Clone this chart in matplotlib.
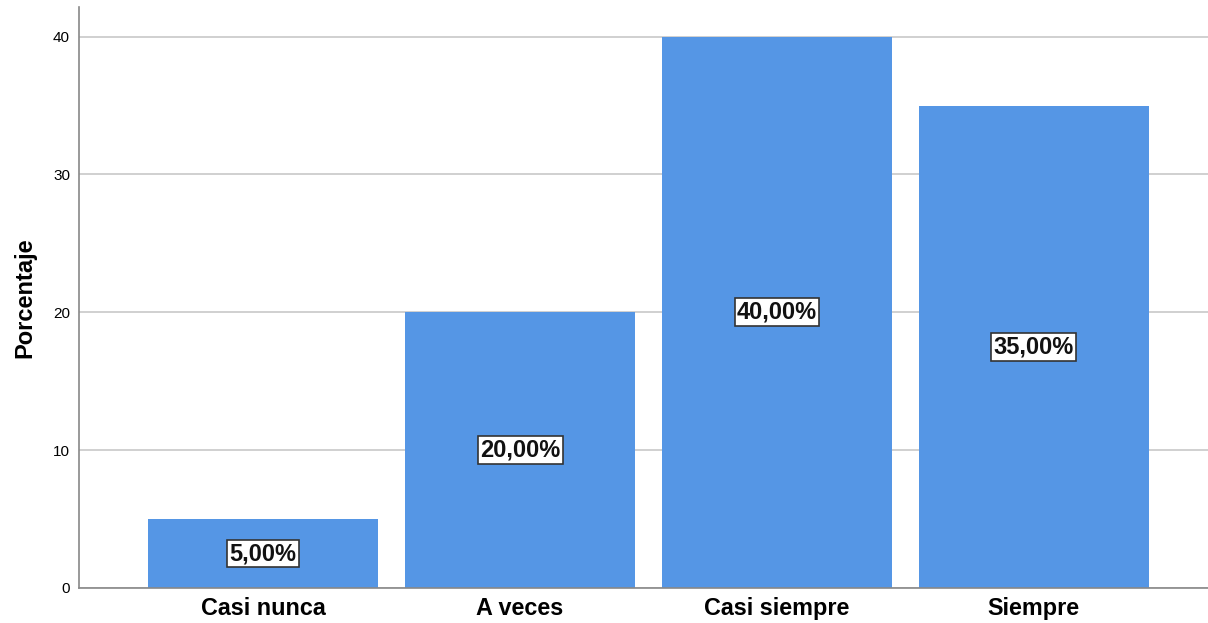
import matplotlib
matplotlib.use("Agg")
import matplotlib.pyplot as plt

categories = ["Casi nunca", "A veces", "Casi siempre", "Siempre"]
porcentajes = [5.0, 20.0, 40.0, 35.0]
etiquetas = ["5,00%", "20,00%", "40,00%", "35,00%"]
yticks = [0, 10, 20, 30, 40]

plt.rcParams["font.family"] = ["Liberation Sans", "DejaVu Sans"]

fig = plt.figure(figsize=(12.08, 6.23), dpi=100)
ax = fig.add_axes([0.0654, 0.0562, 0.9346, 0.9326])

x = range(len(categories))
ax.bar(x, porcentajes, width=0.896, color="#5596e5", zorder=2)

# etiquetas en el centro de cada barra
for i, (v, lab) in enumerate(zip(porcentajes, etiquetas)):
    ax.text(i, v / 2, lab, ha="center", va="center", fontsize=17, zorder=3,
            fontweight="bold", color="#111111",
            bbox=dict(boxstyle="square,pad=0.1", fc="white", ec="#333333", lw=1.2))

ax.set_xlim(-0.717, 3.678)
ax.set_ylim(0, 42.15)
ax.set_yticks(yticks)
ax.set_xticks(list(x))
ax.set_xticklabels(categories, fontsize=16.8, fontweight="bold")
ax.tick_params(axis="both", length=0)
ax.tick_params(axis="y", labelsize=11, pad=6.5)
ax.tick_params(axis="x", pad=6.5)
ax.grid(axis="y", color="#c8c8c8", lw=1.2, zorder=0)
ax.set_ylabel("Porcentaje", fontsize=17, fontweight="bold", labelpad=12)

for s in ["top", "right"]:
    ax.spines[s].set_visible(False)
for s in ["left", "bottom"]:
    ax.spines[s].set_color("#888888")
    ax.spines[s].set_linewidth(1.2)

fig.savefig("out.png", dpi=100)
